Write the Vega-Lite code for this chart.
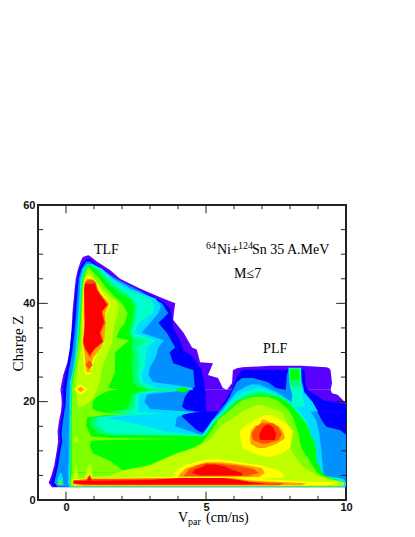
{"$schema":"https://vega.github.io/schema/vega-lite/v6.json","width":308,"height":295,"autosize":{"type":"none"},"padding":{"left":38,"top":205,"right":69,"bottom":37},"background":"white","view":{"stroke":"#222","strokeWidth":2},"config":{"axis":{"grid":false}},
"layer":[
{"data":{"values":[
{"lv":1,"pt":"a","z":2.6,"x0":-0.5,"x1":10},{"lv":1,"pt":"a","z":3.5,"x0":-0.62,"x1":10},{"lv":1,"pt":"a","z":5,"x0":-0.52,"x1":10},{"lv":1,"pt":"a","z":7,"x0":-0.42,"x1":10},{"lv":1,"pt":"a","z":10,"x0":-0.33,"x1":10},{"lv":1,"pt":"a","z":12,"x0":-0.28,"x1":10},{"lv":1,"pt":"a","z":14,"x0":-0.3,"x1":10},{"lv":1,"pt":"a","z":16,"x0":-0.25,"x1":10},{"lv":1,"pt":"a","z":18,"x0":-0.18,"x1":10},{"lv":1,"pt":"a","z":19.7,"x0":-0.15,"x1":10},{"lv":1,"pt":"a","z":21.4,"x0":-0.17,"x1":9.7},{"lv":1,"pt":"a","z":21.7,"x0":-0.18,"x1":9.5},{"lv":1,"pt":"a","z":22.4,"x0":-0.2,"x1":9.45},
{"lv":1,"pt":"b","z":22.4,"x0":-0.2,"x1":5.75},{"lv":1,"pt":"b","z":22.8,"x0":-0.19,"x1":5.6},{"lv":1,"pt":"b","z":24.8,"x0":-0.12,"x1":5.43},{"lv":1,"pt":"b","z":25.4,"x0":-0.1,"x1":5.07},{"lv":1,"pt":"b","z":27.8,"x0":0.04,"x1":5.25},{"lv":1,"pt":"b","z":28,"x0":0.05,"x1":4.79},{"lv":1,"pt":"b","z":30.6,"x0":0.13,"x1":4.67},{"lv":1,"pt":"b","z":31,"x0":0.14,"x1":4.5},{"lv":1,"pt":"b","z":34,"x0":0.19,"x1":4.2},{"lv":1,"pt":"b","z":36.6,"x0":0.22,"x1":3.83},{"lv":1,"pt":"b","z":38,"x0":0.23,"x1":3.85},{"lv":1,"pt":"b","z":40,"x0":0.26,"x1":3.9},{"lv":1,"pt":"b","z":41,"x0":0.28,"x1":3.47},{"lv":1,"pt":"b","z":43,"x0":0.31,"x1":2.64},{"lv":1,"pt":"b","z":45,"x0":0.35,"x1":1.93},{"lv":1,"pt":"b","z":46.8,"x0":0.42,"x1":1.57},{"lv":1,"pt":"b","z":48.5,"x0":0.52,"x1":1.1},{"lv":1,"pt":"b","z":49.4,"x0":0.6,"x1":0.9},{"lv":1,"pt":"b","z":49.8,"x0":0.79,"x1":0.81},
{"lv":1,"pt":"c","z":22.4,"x0":5.75,"x1":9.45},{"lv":1,"pt":"c","z":23.8,"x0":5.93,"x1":9.5},{"lv":1,"pt":"c","z":26.4,"x0":5.96,"x1":9.45},{"lv":1,"pt":"c","z":26.8,"x0":6.1,"x1":9.4},{"lv":1,"pt":"c","z":27,"x0":6.3,"x1":9.3},{"lv":1,"pt":"c","z":27.3,"x0":7.3,"x1":8.4},
{"lv":2,"pt":"a","z":2.75,"x0":-0.43,"x1":10},{"lv":2,"pt":"a","z":3.5,"x0":-0.55,"x1":10},{"lv":2,"pt":"a","z":5,"x0":-0.45,"x1":10},{"lv":2,"pt":"a","z":7,"x0":-0.36,"x1":10},{"lv":2,"pt":"a","z":10,"x0":-0.27,"x1":10},{"lv":2,"pt":"a","z":12,"x0":-0.2,"x1":10},{"lv":2,"pt":"a","z":14,"x0":-0.22,"x1":10},{"lv":2,"pt":"a","z":16,"x0":-0.18,"x1":10},{"lv":2,"pt":"a","z":18,"x0":-0.12,"x1":10},
{"lv":2,"pt":"b","z":18,"x0":-0.12,"x1":5},{"lv":2,"pt":"b","z":19,"x0":-0.08,"x1":5},{"lv":2,"pt":"b","z":22,"x0":-0.12,"x1":4.98},{"lv":2,"pt":"b","z":23,"x0":-0.1,"x1":4.96},{"lv":2,"pt":"b","z":24.8,"x0":-0.05,"x1":4.9},{"lv":2,"pt":"b","z":26.4,"x0":0.02,"x1":4.85},{"lv":2,"pt":"b","z":29,"x0":0.1,"x1":4.55},{"lv":2,"pt":"b","z":30.5,"x0":0.14,"x1":4.2},{"lv":2,"pt":"b","z":32.5,"x0":0.17,"x1":4.07},{"lv":2,"pt":"b","z":35,"x0":0.22,"x1":3.83},{"lv":2,"pt":"b","z":37.6,"x0":0.26,"x1":3.78},{"lv":2,"pt":"b","z":39,"x0":0.3,"x1":3.71},{"lv":2,"pt":"b","z":40.3,"x0":0.31,"x1":3.47},{"lv":2,"pt":"b","z":41.7,"x0":0.33,"x1":3},{"lv":2,"pt":"b","z":42.7,"x0":0.35,"x1":2.29},{"lv":2,"pt":"b","z":45.5,"x0":0.42,"x1":1.6},{"lv":2,"pt":"b","z":47.5,"x0":0.52,"x1":1.15},{"lv":2,"pt":"b","z":49,"x0":0.72,"x1":0.86},
{"lv":2,"pt":"c","z":18,"x0":5.45,"x1":10},{"lv":2,"pt":"c","z":19.5,"x0":5.6,"x1":10},{"lv":2,"pt":"c","z":20.3,"x0":5.7,"x1":9.2},{"lv":2,"pt":"c","z":22.4,"x0":5.93,"x1":8.64},{"lv":2,"pt":"c","z":23.8,"x0":6.02,"x1":8.54},{"lv":2,"pt":"c","z":25.5,"x0":6.15,"x1":8.55},{"lv":2,"pt":"c","z":26.5,"x0":6.3,"x1":8.5},
{"lv":3,"pt":"a","z":2.7,"x0":-0.3,"x1":10},{"lv":3,"pt":"a","z":3.5,"x0":-0.42,"x1":10},{"lv":3,"pt":"a","z":5,"x0":-0.36,"x1":10},{"lv":3,"pt":"a","z":7,"x0":-0.28,"x1":10},{"lv":3,"pt":"a","z":10,"x0":-0.2,"x1":10},{"lv":3,"pt":"a","z":12,"x0":-0.13,"x1":10},{"lv":3,"pt":"a","z":13.2,"x0":-0.16,"x1":10},
{"lv":3,"pt":"b","z":13.2,"x0":-0.16,"x1":5.05},{"lv":3,"pt":"b","z":14.2,"x0":-0.15,"x1":4.68},{"lv":3,"pt":"b","z":15.6,"x0":-0.12,"x1":4.4},{"lv":3,"pt":"b","z":17,"x0":-0.08,"x1":4.14},{"lv":3,"pt":"b","z":17.6,"x0":-0.07,"x1":4.2},{"lv":3,"pt":"b","z":17.9,"x0":-0.06,"x1":4.8},{"lv":3,"pt":"b","z":18.3,"x0":-0.05,"x1":4.3},{"lv":3,"pt":"b","z":19,"x0":-0.02,"x1":4.14},{"lv":3,"pt":"b","z":21,"x0":0,"x1":4.25},{"lv":3,"pt":"b","z":22.4,"x0":0.01,"x1":4.43},{"lv":3,"pt":"b","z":23,"x0":0.02,"x1":4.6},{"lv":3,"pt":"b","z":26.4,"x0":0.1,"x1":4.55},{"lv":3,"pt":"b","z":27.8,"x0":0.15,"x1":3.83},{"lv":3,"pt":"b","z":30,"x0":0.22,"x1":3.7},{"lv":3,"pt":"b","z":31,"x0":0.24,"x1":3.9},{"lv":3,"pt":"b","z":34,"x0":0.3,"x1":3.6},{"lv":3,"pt":"b","z":36,"x0":0.33,"x1":3.3},{"lv":3,"pt":"b","z":38,"x0":0.36,"x1":3.65},{"lv":3,"pt":"b","z":40,"x0":0.38,"x1":3.43},{"lv":3,"pt":"b","z":41.3,"x0":0.4,"x1":3},{"lv":3,"pt":"b","z":42.7,"x0":0.42,"x1":2.57},{"lv":3,"pt":"b","z":45,"x0":0.45,"x1":1.8},{"lv":3,"pt":"b","z":47,"x0":0.55,"x1":1.2},{"lv":3,"pt":"b","z":48.5,"x0":0.72,"x1":0.85},
{"lv":3,"pt":"c","z":13.2,"x0":5.05,"x1":10},{"lv":3,"pt":"c","z":14.2,"x0":5,"x1":9.8},{"lv":3,"pt":"c","z":14.9,"x0":5.1,"x1":9.3},{"lv":3,"pt":"c","z":16,"x0":5.2,"x1":9.15},{"lv":3,"pt":"c","z":18.3,"x0":5.5,"x1":8.95},{"lv":3,"pt":"c","z":19.7,"x0":5.7,"x1":8.8},{"lv":3,"pt":"c","z":21,"x0":5.85,"x1":8.55},{"lv":3,"pt":"c","z":21.7,"x0":5.9,"x1":8.5},{"lv":3,"pt":"c","z":22.8,"x0":6,"x1":7.5},{"lv":3,"pt":"c","z":24,"x0":6.1,"x1":7.2},{"lv":3,"pt":"c","z":24.8,"x0":6.3,"x1":6.7},
{"lv":3,"pt":"d","z":21.7,"x0":7.8,"x1":8.5},{"lv":3,"pt":"d","z":22.4,"x0":7.85,"x1":8.5},{"lv":3,"pt":"d","z":25,"x0":7.88,"x1":8.4},{"lv":3,"pt":"d","z":26.8,"x0":7.95,"x1":8.3},
{"lv":4,"pt":"t","z":3,"x0":-0.3,"x1":-0.08},{"lv":4,"pt":"t","z":4,"x0":-0.32,"x1":-0.1},{"lv":4,"pt":"t","z":5.5,"x0":-0.22,"x1":-0.15},
{"lv":4,"pt":"a","z":2.7,"x0":0.12,"x1":10},{"lv":4,"pt":"a","z":3.6,"x0":0.06,"x1":10},{"lv":4,"pt":"a","z":4.3,"x0":0.08,"x1":9.9},{"lv":4,"pt":"a","z":5,"x0":0.08,"x1":9.2},{"lv":4,"pt":"a","z":8,"x0":0.09,"x1":9.15},{"lv":4,"pt":"a","z":11,"x0":0.1,"x1":9.1},{"lv":4,"pt":"a","z":13.2,"x0":0.1,"x1":9.05},
{"lv":4,"pt":"b","z":13.2,"x0":0.1,"x1":4.85},{"lv":4,"pt":"b","z":15,"x0":0.11,"x1":3.9},{"lv":4,"pt":"b","z":16.8,"x0":0.115,"x1":3.95},{"lv":4,"pt":"b","z":17.4,"x0":0.12,"x1":4.2},{"lv":4,"pt":"b","z":17.9,"x0":0.12,"x1":4.6},{"lv":4,"pt":"b","z":18.5,"x0":0.12,"x1":3},{"lv":4,"pt":"b","z":20,"x0":0.12,"x1":2.8},{"lv":4,"pt":"b","z":21.5,"x0":0.13,"x1":2.9},{"lv":4,"pt":"b","z":22.4,"x0":0.13,"x1":4.55},{"lv":4,"pt":"b","z":22.9,"x0":0.13,"x1":4.5},{"lv":4,"pt":"b","z":24,"x0":0.14,"x1":3.1},{"lv":4,"pt":"b","z":25.5,"x0":0.2,"x1":2.95},{"lv":4,"pt":"b","z":27,"x0":0.25,"x1":3},{"lv":4,"pt":"b","z":29,"x0":0.3,"x1":3.2},{"lv":4,"pt":"b","z":31,"x0":0.34,"x1":3.3},{"lv":4,"pt":"b","z":32.5,"x0":0.36,"x1":3.5},{"lv":4,"pt":"b","z":34,"x0":0.38,"x1":2.7},{"lv":4,"pt":"b","z":36,"x0":0.41,"x1":3},{"lv":4,"pt":"b","z":38,"x0":0.44,"x1":3.3},{"lv":4,"pt":"b","z":39.5,"x0":0.45,"x1":3.4},{"lv":4,"pt":"b","z":41,"x0":0.47,"x1":3.2},{"lv":4,"pt":"b","z":43,"x0":0.49,"x1":2.3},{"lv":4,"pt":"b","z":45,"x0":0.51,"x1":1.7},{"lv":4,"pt":"b","z":47,"x0":0.6,"x1":1.3},{"lv":4,"pt":"b","z":48,"x0":0.75,"x1":0.95},
{"lv":4,"pt":"c","z":13.2,"x0":4.85,"x1":9.05},{"lv":4,"pt":"c","z":16,"x0":5.2,"x1":8.95},{"lv":4,"pt":"c","z":18.3,"x0":5.6,"x1":8.7},{"lv":4,"pt":"c","z":20,"x0":5.8,"x1":8.05},{"lv":4,"pt":"c","z":22,"x0":6.1,"x1":7.5},{"lv":4,"pt":"c","z":23,"x0":6.4,"x1":7.1},{"lv":4,"pt":"c","z":23.5,"x0":6.6,"x1":6.9},
{"lv":4,"pt":"d","z":18,"x0":7.9,"x1":9},{"lv":4,"pt":"d","z":20,"x0":8.05,"x1":8.8},{"lv":4,"pt":"d","z":22,"x0":8.1,"x1":8.5},{"lv":4,"pt":"d","z":24,"x0":8,"x1":8.4},{"lv":4,"pt":"d","z":26,"x0":7.95,"x1":8.4},{"lv":4,"pt":"d","z":26.8,"x0":8.02,"x1":8.33},
{"lv":5,"pt":"a","z":2.7,"x0":0.14,"x1":9.9},{"lv":5,"pt":"a","z":3.4,"x0":0.1,"x1":9.95},{"lv":5,"pt":"a","z":4.3,"x0":0.12,"x1":9.8},{"lv":5,"pt":"a","z":5,"x0":0.12,"x1":9.1},{"lv":5,"pt":"a","z":8,"x0":0.13,"x1":8.85},{"lv":5,"pt":"a","z":11,"x0":0.14,"x1":8.85},{"lv":5,"pt":"a","z":13.2,"x0":0.14,"x1":8.75},
{"lv":5,"pt":"b","z":13.2,"x0":0.14,"x1":4.9},{"lv":5,"pt":"b","z":13.5,"x0":0.14,"x1":4.3},{"lv":5,"pt":"b","z":14,"x0":0.14,"x1":3.5},{"lv":5,"pt":"b","z":15,"x0":0.15,"x1":2.9},{"lv":5,"pt":"b","z":16.8,"x0":0.15,"x1":1.4},{"lv":5,"pt":"b","z":17.3,"x0":0.16,"x1":2.5},{"lv":5,"pt":"b","z":17.6,"x0":0.16,"x1":3.5},{"lv":5,"pt":"b","z":17.9,"x0":0.16,"x1":2.5},{"lv":5,"pt":"b","z":18.5,"x0":0.16,"x1":2.6},{"lv":5,"pt":"b","z":20,"x0":0.16,"x1":2.6},{"lv":5,"pt":"b","z":21.5,"x0":0.17,"x1":2.6},{"lv":5,"pt":"b","z":22.1,"x0":0.17,"x1":3.3},{"lv":5,"pt":"b","z":22.4,"x0":0.17,"x1":4.4},{"lv":5,"pt":"b","z":22.8,"x0":0.17,"x1":3.2},{"lv":5,"pt":"b","z":24,"x0":0.18,"x1":2.75},{"lv":5,"pt":"b","z":25.5,"x0":0.23,"x1":2.7},{"lv":5,"pt":"b","z":27,"x0":0.28,"x1":2.8},{"lv":5,"pt":"b","z":29,"x0":0.33,"x1":2.85},{"lv":5,"pt":"b","z":31,"x0":0.37,"x1":2.9},{"lv":5,"pt":"b","z":32.5,"x0":0.39,"x1":3.2},{"lv":5,"pt":"b","z":34,"x0":0.42,"x1":2.45},{"lv":5,"pt":"b","z":36,"x0":0.44,"x1":2.6},{"lv":5,"pt":"b","z":38,"x0":0.47,"x1":3.1},{"lv":5,"pt":"b","z":39.5,"x0":0.48,"x1":3.15},{"lv":5,"pt":"b","z":41,"x0":0.5,"x1":3},{"lv":5,"pt":"b","z":43,"x0":0.52,"x1":2.1},{"lv":5,"pt":"b","z":45,"x0":0.55,"x1":1.6},{"lv":5,"pt":"b","z":47,"x0":0.65,"x1":1.25},{"lv":5,"pt":"b","z":47.7,"x0":0.78,"x1":1},
{"lv":5,"pt":"c","z":13.2,"x0":4.9,"x1":8.75},{"lv":5,"pt":"c","z":16,"x0":5.25,"x1":8.6},{"lv":5,"pt":"c","z":18.3,"x0":5.65,"x1":8.3},{"lv":5,"pt":"c","z":20,"x0":5.9,"x1":7.95},{"lv":5,"pt":"c","z":21,"x0":6.1,"x1":7.7},{"lv":5,"pt":"c","z":22,"x0":6.4,"x1":7.3},{"lv":5,"pt":"c","z":22.7,"x0":6.8,"x1":7},
{"lv":5,"pt":"d","z":19,"x0":8.05,"x1":8.55},{"lv":5,"pt":"d","z":21,"x0":8.1,"x1":8.45},{"lv":5,"pt":"d","z":23,"x0":8,"x1":8.4},{"lv":5,"pt":"d","z":26.9,"x0":7.95,"x1":8.4},
{"lv":6,"pt":"t","z":3.1,"x0":-0.3,"x1":-0.12},{"lv":6,"pt":"t","z":4,"x0":-0.28,"x1":-0.14},
{"lv":6,"pt":"a","z":2.72,"x0":0.16,"x1":9.85},{"lv":6,"pt":"a","z":3.4,"x0":0.12,"x1":9.9},{"lv":6,"pt":"a","z":4.3,"x0":0.14,"x1":9.7},{"lv":6,"pt":"a","z":5,"x0":0.14,"x1":9},{"lv":6,"pt":"a","z":8,"x0":0.15,"x1":8.75},{"lv":6,"pt":"a","z":11,"x0":0.16,"x1":8.75},{"lv":6,"pt":"a","z":13,"x0":0.16,"x1":8.7},
{"lv":6,"pt":"b","z":13,"x0":0.16,"x1":5},{"lv":6,"pt":"b","z":13.3,"x0":0.16,"x1":1.6},{"lv":6,"pt":"b","z":15,"x0":0.17,"x1":1.1},{"lv":6,"pt":"b","z":16.8,"x0":0.17,"x1":1.1},{"lv":6,"pt":"b","z":17.3,"x0":0.18,"x1":1.9},{"lv":6,"pt":"b","z":17.6,"x0":0.18,"x1":2.5},{"lv":6,"pt":"b","z":17.9,"x0":0.18,"x1":1.9},{"lv":6,"pt":"b","z":18.5,"x0":0.18,"x1":2.45},{"lv":6,"pt":"b","z":20,"x0":0.18,"x1":2.45},{"lv":6,"pt":"b","z":21.5,"x0":0.19,"x1":2.5},{"lv":6,"pt":"b","z":22.1,"x0":0.19,"x1":2.9},{"lv":6,"pt":"b","z":22.4,"x0":0.19,"x1":4.3},{"lv":6,"pt":"b","z":22.8,"x0":0.19,"x1":2.9},{"lv":6,"pt":"b","z":24,"x0":0.2,"x1":2.6},{"lv":6,"pt":"b","z":25.5,"x0":0.25,"x1":2.55},{"lv":6,"pt":"b","z":27,"x0":0.3,"x1":2.6},{"lv":6,"pt":"b","z":29,"x0":0.36,"x1":2.6},{"lv":6,"pt":"b","z":31,"x0":0.4,"x1":2.5},{"lv":6,"pt":"b","z":32.5,"x0":0.42,"x1":2.9},{"lv":6,"pt":"b","z":33,"x0":0.42,"x1":2.4},{"lv":6,"pt":"b","z":34,"x0":0.45,"x1":2.35},{"lv":6,"pt":"b","z":36,"x0":0.47,"x1":2.45},{"lv":6,"pt":"b","z":38,"x0":0.5,"x1":2.5},{"lv":6,"pt":"b","z":39.5,"x0":0.51,"x1":2.5},{"lv":6,"pt":"b","z":41,"x0":0.53,"x1":2.4},{"lv":6,"pt":"b","z":43,"x0":0.55,"x1":1.9},{"lv":6,"pt":"b","z":45,"x0":0.58,"x1":1.5},{"lv":6,"pt":"b","z":47,"x0":0.68,"x1":1.15},{"lv":6,"pt":"b","z":47.5,"x0":0.78,"x1":0.95},
{"lv":6,"pt":"c","z":13,"x0":5,"x1":8.7},{"lv":6,"pt":"c","z":16,"x0":5.3,"x1":8.5},{"lv":6,"pt":"c","z":18.3,"x0":5.72,"x1":8.2},{"lv":6,"pt":"c","z":20,"x0":6,"x1":7.95},{"lv":6,"pt":"c","z":21,"x0":6.3,"x1":7.7},{"lv":6,"pt":"c","z":22,"x0":6.8,"x1":7.1},
{"lv":6,"pt":"d","z":23,"x0":8.05,"x1":8.37},{"lv":6,"pt":"d","z":24,"x0":7.98,"x1":8.38},{"lv":6,"pt":"d","z":26.8,"x0":7.98,"x1":8.36},
{"lv":7,"pt":"a","z":2.75,"x0":0.17,"x1":9.8},{"lv":7,"pt":"a","z":3.4,"x0":0.14,"x1":9.85},{"lv":7,"pt":"a","z":4.3,"x0":0.15,"x1":9.5},{"lv":7,"pt":"a","z":5.3,"x0":0.16,"x1":9.18},{"lv":7,"pt":"a","z":8,"x0":0.17,"x1":8.95},{"lv":7,"pt":"a","z":11.6,"x0":0.17,"x1":8.9},{"lv":7,"pt":"a","z":13,"x0":0.18,"x1":8.75},
{"lv":7,"pt":"b","z":13,"x0":0.18,"x1":4.95},{"lv":7,"pt":"b","z":13.2,"x0":0.18,"x1":1.8},{"lv":7,"pt":"b","z":13.5,"x0":0.18,"x1":1.2},{"lv":7,"pt":"b","z":15,"x0":0.19,"x1":0.9},{"lv":7,"pt":"b","z":16.8,"x0":0.19,"x1":0.9},{"lv":7,"pt":"b","z":17.3,"x0":0.2,"x1":1.6},{"lv":7,"pt":"b","z":17.6,"x0":0.2,"x1":1.95},{"lv":7,"pt":"b","z":17.9,"x0":0.2,"x1":1.5},{"lv":7,"pt":"b","z":18.5,"x0":0.2,"x1":2.2},{"lv":7,"pt":"b","z":20,"x0":0.2,"x1":2.3},{"lv":7,"pt":"b","z":21.5,"x0":0.21,"x1":2.35},{"lv":7,"pt":"b","z":22.1,"x0":0.21,"x1":2.7},{"lv":7,"pt":"b","z":22.4,"x0":0.21,"x1":3},{"lv":7,"pt":"b","z":22.8,"x0":0.21,"x1":2.6},{"lv":7,"pt":"b","z":24,"x0":0.22,"x1":2.4},{"lv":7,"pt":"b","z":25.5,"x0":0.26,"x1":2.4},{"lv":7,"pt":"b","z":27,"x0":0.32,"x1":2.35},{"lv":7,"pt":"b","z":29,"x0":0.37,"x1":2.4},{"lv":7,"pt":"b","z":31,"x0":0.42,"x1":2.35},{"lv":7,"pt":"b","z":32.5,"x0":0.44,"x1":2.4},{"lv":7,"pt":"b","z":34,"x0":0.47,"x1":2.25},{"lv":7,"pt":"b","z":36,"x0":0.5,"x1":2.35},{"lv":7,"pt":"b","z":38,"x0":0.52,"x1":2.4},{"lv":7,"pt":"b","z":39.5,"x0":0.53,"x1":2.45},{"lv":7,"pt":"b","z":41,"x0":0.55,"x1":2.25},{"lv":7,"pt":"b","z":43,"x0":0.57,"x1":1.7},{"lv":7,"pt":"b","z":45,"x0":0.6,"x1":1.35},{"lv":7,"pt":"b","z":47,"x0":0.7,"x1":1.05},{"lv":7,"pt":"b","z":47.7,"x0":0.79,"x1":0.85},
{"lv":7,"pt":"c","z":13,"x0":4.95,"x1":8.75},{"lv":7,"pt":"c","z":15,"x0":5.2,"x1":8.64},{"lv":7,"pt":"c","z":16,"x0":5.35,"x1":8.5},{"lv":7,"pt":"c","z":18.3,"x0":5.78,"x1":8.2},{"lv":7,"pt":"c","z":20,"x0":6.1,"x1":7.9},{"lv":7,"pt":"c","z":21,"x0":6.55,"x1":7.5},{"lv":7,"pt":"c","z":21.3,"x0":6.8,"x1":7.2},
{"lv":7,"pt":"d","z":24.4,"x0":8.04,"x1":8.34},{"lv":7,"pt":"d","z":25,"x0":8.02,"x1":8.34},{"lv":7,"pt":"d","z":26.5,"x0":8.03,"x1":8.32},
{"lv":7,"pt":"e","z":21.9,"x0":4.1,"x1":4.25},{"lv":7,"pt":"e","z":22.4,"x0":3.9,"x1":4.4},{"lv":7,"pt":"e","z":22.9,"x0":4.1,"x1":4.25},
{"lv":8,"pt":"t","z":3.2,"x0":-0.26,"x1":-0.16},{"lv":8,"pt":"t","z":4,"x0":-0.22,"x1":-0.18},
{"lv":8,"pt":"a","z":5.6,"x0":0.2,"x1":2.75},{"lv":8,"pt":"a","z":6,"x0":0.2,"x1":2.04},{"lv":8,"pt":"a","z":8,"x0":0.2,"x1":1.57},{"lv":8,"pt":"a","z":9.5,"x0":0.2,"x1":0.96},{"lv":8,"pt":"a","z":11,"x0":0.2,"x1":0.85},{"lv":8,"pt":"a","z":12,"x0":0.2,"x1":0.9},{"lv":8,"pt":"a","z":12.2,"x0":0.2,"x1":1.6},{"lv":8,"pt":"a","z":12.4,"x0":0.2,"x1":4.2},{"lv":8,"pt":"a","z":12.6,"x0":0.2,"x1":1.6},{"lv":8,"pt":"a","z":12.9,"x0":0.2,"x1":0.9},{"lv":8,"pt":"a","z":15,"x0":0.2,"x1":0.72},{"lv":8,"pt":"a","z":16.8,"x0":0.2,"x1":0.75},{"lv":8,"pt":"a","z":17.3,"x0":0.21,"x1":1.4},{"lv":8,"pt":"a","z":17.5,"x0":0.21,"x1":2.3},{"lv":8,"pt":"a","z":17.8,"x0":0.21,"x1":1.3},{"lv":8,"pt":"a","z":18.5,"x0":0.21,"x1":0.95},{"lv":8,"pt":"a","z":20,"x0":0.21,"x1":0.95},{"lv":8,"pt":"a","z":21,"x0":0.22,"x1":1.1},{"lv":8,"pt":"a","z":22.2,"x0":0.22,"x1":1.5},{"lv":8,"pt":"a","z":22.5,"x0":0.22,"x1":1.9},{"lv":8,"pt":"a","z":22.8,"x0":0.22,"x1":1.5},{"lv":8,"pt":"a","z":24,"x0":0.24,"x1":1.6},{"lv":8,"pt":"a","z":26,"x0":0.3,"x1":1.75},{"lv":8,"pt":"a","z":28,"x0":0.36,"x1":1.75},{"lv":8,"pt":"a","z":30,"x0":0.4,"x1":1.75},{"lv":8,"pt":"a","z":32.5,"x0":0.46,"x1":2.25},{"lv":8,"pt":"a","z":33,"x0":0.47,"x1":1.8},{"lv":8,"pt":"a","z":34.5,"x0":0.5,"x1":1.9},{"lv":8,"pt":"a","z":36,"x0":0.52,"x1":2.1},{"lv":8,"pt":"a","z":38,"x0":0.54,"x1":2.2},{"lv":8,"pt":"a","z":40,"x0":0.56,"x1":2},{"lv":8,"pt":"a","z":41,"x0":0.57,"x1":1.8},{"lv":8,"pt":"a","z":43,"x0":0.59,"x1":1.45},{"lv":8,"pt":"a","z":45,"x0":0.62,"x1":1.2},{"lv":8,"pt":"a","z":46.5,"x0":0.71,"x1":0.95},{"lv":8,"pt":"a","z":47.4,"x0":0.79,"x1":0.82},
{"lv":8,"pt":"b","z":2.8,"x0":0.18,"x1":9.7},{"lv":8,"pt":"b","z":3.6,"x0":0.16,"x1":9.75},{"lv":8,"pt":"b","z":4.5,"x0":0.18,"x1":9.3},{"lv":8,"pt":"b","z":5.5,"x0":0.2,"x1":8.96},{"lv":8,"pt":"b","z":5.7,"x0":2.75,"x1":8.95},{"lv":8,"pt":"b","z":8,"x0":3.36,"x1":8.7},{"lv":8,"pt":"b","z":10,"x0":4.32,"x1":8.45},{"lv":8,"pt":"b","z":11.6,"x0":4.86,"x1":8.36},{"lv":8,"pt":"b","z":13.2,"x0":5.07,"x1":8.32},{"lv":8,"pt":"b","z":15.6,"x0":5.38,"x1":8.18},{"lv":8,"pt":"b","z":16.3,"x0":5.43,"x1":8.15},{"lv":8,"pt":"b","z":18.3,"x0":5.86,"x1":7.95},{"lv":8,"pt":"b","z":19.3,"x0":6.05,"x1":7.75},{"lv":8,"pt":"b","z":20.3,"x0":6.3,"x1":7.55},{"lv":8,"pt":"b","z":21,"x0":6.68,"x1":7.2},
{"lv":9,"pt":"a","z":2.9,"x0":0.3,"x1":9.9},{"lv":9,"pt":"a","z":3.5,"x0":0.2,"x1":9.95},{"lv":9,"pt":"a","z":4.3,"x0":0.2,"x1":9.4},{"lv":9,"pt":"a","z":5,"x0":1.6,"x1":9.07},{"lv":9,"pt":"a","z":6.1,"x0":2.1,"x1":8.6},{"lv":9,"pt":"a","z":7.1,"x0":3,"x1":8.4},{"lv":9,"pt":"a","z":9.5,"x0":3.96,"x1":8.1},{"lv":9,"pt":"a","z":10.8,"x0":4.68,"x1":8},{"lv":9,"pt":"a","z":12.2,"x0":5.14,"x1":7.95},{"lv":9,"pt":"a","z":14.9,"x0":5.5,"x1":7.95},{"lv":9,"pt":"a","z":15,"x0":5.52,"x1":7.93},{"lv":9,"pt":"a","z":17.6,"x0":6.2,"x1":7.75},{"lv":9,"pt":"a","z":18.3,"x0":6.4,"x1":7.53},{"lv":9,"pt":"a","z":19.3,"x0":6.8,"x1":7},
{"lv":9,"pt":"b","z":19,"x0":0.45,"x1":0.6},{"lv":9,"pt":"b","z":20,"x0":0.4,"x1":0.85},{"lv":9,"pt":"b","z":21,"x0":0.38,"x1":1},{"lv":9,"pt":"b","z":24,"x0":0.36,"x1":1.2},{"lv":9,"pt":"b","z":27,"x0":0.42,"x1":1.3},{"lv":9,"pt":"b","z":30,"x0":0.5,"x1":1.5},{"lv":9,"pt":"b","z":32,"x0":0.55,"x1":1.65},{"lv":9,"pt":"b","z":35,"x0":0.56,"x1":1.7},{"lv":9,"pt":"b","z":38,"x0":0.57,"x1":1.85},{"lv":9,"pt":"b","z":40,"x0":0.58,"x1":1.9},{"lv":9,"pt":"b","z":42,"x0":0.6,"x1":1.45},{"lv":9,"pt":"b","z":44,"x0":0.65,"x1":1.15},{"lv":9,"pt":"b","z":45.5,"x0":0.7,"x1":0.95},{"lv":9,"pt":"b","z":46.4,"x0":0.79,"x1":0.83},
{"lv":9,"pt":"c","z":4.4,"x0":0.65,"x1":1},{"lv":9,"pt":"c","z":7.5,"x0":0.83,"x1":0.85},
{"lv":9,"pt":"d","z":4.4,"x0":0.25,"x1":0.45},{"lv":9,"pt":"d","z":6.8,"x0":0.33,"x1":0.37},
{"lv":9,"pt":"e","z":11.8,"x0":0.3,"x1":0.42},{"lv":9,"pt":"e","z":12.4,"x0":0.3,"x1":0.42},{"lv":9,"pt":"e","z":13,"x0":0.36,"x1":0.37},
{"lv":10,"pt":"t","z":3.3,"x0":-0.24,"x1":-0.18},{"lv":10,"pt":"t","z":3.8,"x0":-0.22,"x1":-0.2},
{"lv":10,"pt":"a","z":25.5,"x0":0.7,"x1":0.85},{"lv":10,"pt":"a","z":27,"x0":0.66,"x1":0.92},{"lv":10,"pt":"a","z":29,"x0":0.62,"x1":1.05},{"lv":10,"pt":"a","z":31,"x0":0.6,"x1":1.2},{"lv":10,"pt":"a","z":33,"x0":0.6,"x1":1.35},{"lv":10,"pt":"a","z":36,"x0":0.6,"x1":1.4},{"lv":10,"pt":"a","z":38,"x0":0.58,"x1":1.45},{"lv":10,"pt":"a","z":40,"x0":0.6,"x1":1.6},{"lv":10,"pt":"a","z":42,"x0":0.62,"x1":1.3},{"lv":10,"pt":"a","z":44,"x0":0.63,"x1":1.1},{"lv":10,"pt":"a","z":45,"x0":0.7,"x1":0.9},{"lv":10,"pt":"a","z":45.6,"x0":0.78,"x1":0.82},
{"lv":10,"pt":"b","z":21.5,"x0":0.45,"x1":0.55},{"lv":10,"pt":"b","z":22.5,"x0":0.3,"x1":0.78},{"lv":10,"pt":"b","z":23.5,"x0":0.45,"x1":0.55},
{"lv":10,"pt":"c","z":2.95,"x0":0.3,"x1":9.3},{"lv":10,"pt":"c","z":3.5,"x0":0.22,"x1":9.7},{"lv":10,"pt":"c","z":4.2,"x0":0.24,"x1":7},{"lv":10,"pt":"c","z":4.7,"x0":3.3,"x1":7.6},
{"lv":10,"pt":"d","z":4.2,"x0":0.7,"x1":0.95},{"lv":10,"pt":"d","z":5.5,"x0":0.83,"x1":0.85},
{"lv":10,"pt":"e","z":4.5,"x0":3.6,"x1":7.8},{"lv":10,"pt":"e","z":5,"x0":3.9,"x1":7.8},{"lv":10,"pt":"e","z":6,"x0":3.9,"x1":7.6},{"lv":10,"pt":"e","z":7,"x0":4.2,"x1":7},{"lv":10,"pt":"e","z":8,"x0":4.8,"x1":5.9},{"lv":10,"pt":"e","z":8.3,"x0":5.2,"x1":5.4},
{"lv":10,"pt":"f","z":8.8,"x0":7.1,"x1":7.3},{"lv":10,"pt":"f","z":9.5,"x0":6.7,"x1":7.7},{"lv":10,"pt":"f","z":10.6,"x0":6.3,"x1":8},{"lv":10,"pt":"f","z":12,"x0":6.25,"x1":8.05},{"lv":10,"pt":"f","z":14,"x0":6.2,"x1":8.1},{"lv":10,"pt":"f","z":15.5,"x0":6.5,"x1":7.9},{"lv":10,"pt":"f","z":16.3,"x0":6.75,"x1":7.65},{"lv":10,"pt":"f","z":17.3,"x0":7.1,"x1":7.3},
{"lv":11,"pt":"a","z":26,"x0":0.75,"x1":0.85},{"lv":11,"pt":"a","z":27,"x0":0.7,"x1":0.88},{"lv":11,"pt":"a","z":29,"x0":0.68,"x1":0.98},{"lv":11,"pt":"a","z":31,"x0":0.63,"x1":1.25},{"lv":11,"pt":"a","z":33,"x0":0.62,"x1":1.38},{"lv":11,"pt":"a","z":36,"x0":0.64,"x1":1.42},{"lv":11,"pt":"a","z":38,"x0":0.62,"x1":1.4},{"lv":11,"pt":"a","z":40,"x0":0.63,"x1":1.55},{"lv":11,"pt":"a","z":42,"x0":0.64,"x1":1.2},{"lv":11,"pt":"a","z":44,"x0":0.65,"x1":1.07},{"lv":11,"pt":"a","z":45,"x0":0.74,"x1":0.88},
{"lv":11,"pt":"b","z":22,"x0":0.5,"x1":0.55},{"lv":11,"pt":"b","z":22.5,"x0":0.4,"x1":0.65},{"lv":11,"pt":"b","z":23,"x0":0.5,"x1":0.55},
{"lv":11,"pt":"c","z":3,"x0":0.4,"x1":8.4},{"lv":11,"pt":"c","z":3.4,"x0":0.24,"x1":8.6},{"lv":11,"pt":"c","z":4,"x0":0.25,"x1":6.5},{"lv":11,"pt":"c","z":4.5,"x0":3,"x1":6},
{"lv":11,"pt":"d","z":4.2,"x0":0.72,"x1":0.93},{"lv":11,"pt":"d","z":5.2,"x0":0.83,"x1":0.85},
{"lv":11,"pt":"e","z":4.7,"x0":4,"x1":6.9},{"lv":11,"pt":"e","z":5.5,"x0":4.1,"x1":7.1},{"lv":11,"pt":"e","z":6.5,"x0":4.3,"x1":7},{"lv":11,"pt":"e","z":7,"x0":4.6,"x1":6.5},{"lv":11,"pt":"e","z":7.7,"x0":5,"x1":5.6},
{"lv":11,"pt":"f","z":10.6,"x0":6.85,"x1":7.1},{"lv":11,"pt":"f","z":11.4,"x0":6.6,"x1":7.5},{"lv":11,"pt":"f","z":12.5,"x0":6.57,"x1":7.82},{"lv":11,"pt":"f","z":14,"x0":6.6,"x1":7.75},{"lv":11,"pt":"f","z":15,"x0":6.75,"x1":7.6},{"lv":11,"pt":"f","z":15.3,"x0":6.9,"x1":7.45},{"lv":11,"pt":"f","z":16.3,"x0":7,"x1":7.1},
{"lv":12,"pt":"t","z":3.4,"x0":-0.23,"x1":-0.19},{"lv":12,"pt":"t","z":3.7,"x0":-0.23,"x1":-0.19},
{"lv":12,"pt":"a","z":26.7,"x0":0.8,"x1":0.85},{"lv":12,"pt":"a","z":27.5,"x0":0.7,"x1":0.95},{"lv":12,"pt":"a","z":28.3,"x0":0.8,"x1":0.85},
{"lv":12,"pt":"b","z":29,"x0":0.84,"x1":0.88},{"lv":12,"pt":"b","z":30,"x0":0.74,"x1":0.9},{"lv":12,"pt":"b","z":31,"x0":0.64,"x1":1.1},{"lv":12,"pt":"b","z":32.2,"x0":0.6,"x1":1.34},{"lv":12,"pt":"b","z":34,"x0":0.64,"x1":1.24},{"lv":12,"pt":"b","z":36,"x0":0.66,"x1":1.4},{"lv":12,"pt":"b","z":38.3,"x0":0.65,"x1":1.3},{"lv":12,"pt":"b","z":39.7,"x0":0.65,"x1":1.5},{"lv":12,"pt":"b","z":42.7,"x0":0.64,"x1":1.14},{"lv":12,"pt":"b","z":44.3,"x0":0.68,"x1":1.06},{"lv":12,"pt":"b","z":44.8,"x0":0.8,"x1":0.95},
{"lv":12,"pt":"c","z":3,"x0":0.6,"x1":7.6},{"lv":12,"pt":"c","z":3.4,"x0":0.24,"x1":7.8},{"lv":12,"pt":"c","z":4,"x0":0.26,"x1":5.5},{"lv":12,"pt":"c","z":4.3,"x0":1,"x1":6},
{"lv":12,"pt":"d","z":4.2,"x0":0.75,"x1":0.92},{"lv":12,"pt":"d","z":5,"x0":0.83,"x1":0.85},
{"lv":12,"pt":"e","z":4.9,"x0":4.2,"x1":6.5},{"lv":12,"pt":"e","z":5.5,"x0":4.3,"x1":6.9},{"lv":12,"pt":"e","z":6.3,"x0":4.4,"x1":6.7},{"lv":12,"pt":"e","z":7,"x0":4.7,"x1":6.1},{"lv":12,"pt":"e","z":7.5,"x0":5,"x1":5.3},
{"lv":12,"pt":"f","z":11.5,"x0":7,"x1":7.2},{"lv":12,"pt":"f","z":12.2,"x0":6.68,"x1":7.6},{"lv":12,"pt":"f","z":13.5,"x0":6.62,"x1":7.72},{"lv":12,"pt":"f","z":15,"x0":6.8,"x1":7.55},{"lv":12,"pt":"f","z":15.6,"x0":7,"x1":7.4},
{"lv":13,"pt":"a","z":29.5,"x0":0.85,"x1":0.87},{"lv":13,"pt":"a","z":30.9,"x0":0.68,"x1":1.04},{"lv":13,"pt":"a","z":32.2,"x0":0.62,"x1":1.31},{"lv":13,"pt":"a","z":34,"x0":0.66,"x1":1.2},{"lv":13,"pt":"a","z":36.2,"x0":0.68,"x1":1.36},{"lv":13,"pt":"a","z":38.3,"x0":0.67,"x1":1.27},{"lv":13,"pt":"a","z":39.7,"x0":0.67,"x1":1.47},{"lv":13,"pt":"a","z":42.7,"x0":0.65,"x1":1.1},{"lv":13,"pt":"a","z":44,"x0":0.68,"x1":1.04},
{"lv":13,"pt":"b","z":3.15,"x0":1,"x1":6.5},{"lv":13,"pt":"b","z":3.35,"x0":0.27,"x1":7.2},{"lv":13,"pt":"b","z":3.6,"x0":0.27,"x1":6.6},{"lv":13,"pt":"b","z":3.85,"x0":0.3,"x1":6.4},{"lv":13,"pt":"b","z":4.05,"x0":3,"x1":6.2},{"lv":13,"pt":"b","z":4.5,"x0":4.1,"x1":5.6},
{"lv":13,"pt":"d","z":3.9,"x0":0.75,"x1":0.92},{"lv":13,"pt":"d","z":4.8,"x0":0.83,"x1":0.85},
{"lv":13,"pt":"e","z":5,"x0":4.8,"x1":6.3},{"lv":13,"pt":"e","z":5.5,"x0":4.5,"x1":6.3},{"lv":13,"pt":"e","z":6.2,"x0":4.6,"x1":5.9},{"lv":13,"pt":"e","z":6.8,"x0":4.9,"x1":5.7},{"lv":13,"pt":"e","z":7.2,"x0":5,"x1":5.3},
{"lv":13,"pt":"f","z":12.2,"x0":6.93,"x1":7.46},{"lv":13,"pt":"f","z":13.5,"x0":6.9,"x1":7.5},{"lv":13,"pt":"f","z":14.8,"x0":7.05,"x1":7.4},{"lv":13,"pt":"f","z":15.3,"x0":7.15,"x1":7.25}
]},
"mark":{"type":"area","orient":"horizontal","interpolate":"linear"},
"encoding":{
"y":{"field":"z","type":"quantitative","scale":{"domain":[0,60],"nice":false},"axis":{"values":[0,20,40,60],"ticks":false,"domain":false,"labelFont":"Liberation Sans","labelFontWeight":"bold","labelFontSize":11,"labelColor":"#111","labelPadding":3,"title":"Charge Z","titleFont":"Liberation Serif","titleFontWeight":"normal","titleFontSize":15,"titleColor":"#000","titleX":-13,"titleY":138}},
"x":{"field":"x0","type":"quantitative","stack":null,"scale":{"domain":[-1,10],"nice":false},"axis":{"values":[0,5,10],"ticks":false,"domain":false,"labelFont":"Liberation Sans","labelFontWeight":"bold","labelFontSize":11,"labelColor":"#111","labelPadding":1,"labelFlush":false,"title":null}},
"x2":{"field":"x1"},
"color":{"field":"lv","type":"ordinal","legend":null,"scale":{"domain":[1,2,3,4,5,6,7,8,9,10,11,12,13],"range":["#5a00ff","#0000ff","#0090ff","#00dcff","#00ffc8","#00ff70","#00ff00","#80ff00","#c0ff00","#ffff00","#ffa000","#ff5000","#ff0000"]}},
"detail":{"field":"pt"}
}},
{"data":{"values":[{"v":0,"s":0,"e":1.7},{"v":5,"s":0,"e":1.7},{"v":10,"s":0,"e":1.7},{"v":1,"s":0,"e":0.85},{"v":2,"s":0,"e":0.85},{"v":3,"s":0,"e":0.85},{"v":4,"s":0,"e":0.85},{"v":6,"s":0,"e":0.85},{"v":7,"s":0,"e":0.85},{"v":8,"s":0,"e":0.85},{"v":9,"s":0,"e":0.85},{"v":0,"s":60,"e":58.3},{"v":5,"s":60,"e":58.3},{"v":10,"s":60,"e":58.3},{"v":1,"s":60,"e":59.15},{"v":2,"s":60,"e":59.15},{"v":3,"s":60,"e":59.15},{"v":4,"s":60,"e":59.15},{"v":6,"s":60,"e":59.15},{"v":7,"s":60,"e":59.15},{"v":8,"s":60,"e":59.15},{"v":9,"s":60,"e":59.15}]},
"mark":{"type":"rule","stroke":"#222","strokeWidth":1},
"encoding":{"x":{"field":"v","type":"quantitative"},"y":{"field":"s","type":"quantitative"},"y2":{"field":"e"}}},
{"data":{"values":[{"v":20,"s":-1,"e":-0.65},{"v":40,"s":-1,"e":-0.65},{"v":5,"s":-1,"e":-0.82},{"v":10,"s":-1,"e":-0.82},{"v":15,"s":-1,"e":-0.82},{"v":25,"s":-1,"e":-0.82},{"v":30,"s":-1,"e":-0.82},{"v":35,"s":-1,"e":-0.82},{"v":45,"s":-1,"e":-0.82},{"v":50,"s":-1,"e":-0.82},{"v":55,"s":-1,"e":-0.82},{"v":20,"s":10,"e":9.65},{"v":40,"s":10,"e":9.65},{"v":5,"s":10,"e":9.82},{"v":10,"s":10,"e":9.82},{"v":15,"s":10,"e":9.82},{"v":25,"s":10,"e":9.82},{"v":30,"s":10,"e":9.82},{"v":35,"s":10,"e":9.82},{"v":45,"s":10,"e":9.82},{"v":50,"s":10,"e":9.82},{"v":55,"s":10,"e":9.82}]},
"mark":{"type":"rule","stroke":"#222","strokeWidth":1},
"encoding":{"y":{"field":"v","type":"quantitative"},"x":{"field":"s","type":"quantitative"},"x2":{"field":"e"}}},
{"data":{"values":[{"x":1,"z":50,"t":"TLF"},{"x":5.39,"z":50,"t":"Ni+"},{"x":6.64,"z":50,"t":"Sn 35 A.MeV"},{"x":6,"z":45.15,"t":"M≤7"},{"x":7.04,"z":29.9,"t":"PLF"},{"x":4,"z":-4.4,"t":"V"},{"x":5,"z":-4.4,"t":"(cm/ns)"}]},
"mark":{"type":"text","font":"Liberation Serif","fontSize":14,"align":"left","baseline":"alphabetic","color":"#000"},
"encoding":{"x":{"field":"x","type":"quantitative"},"y":{"field":"z","type":"quantitative"},"text":{"field":"t"}}},
{"data":{"values":[{"x":5,"z":51,"t":"64"},{"x":6.14,"z":51,"t":"124"},{"x":4.36,"z":-5,"t":"par"}]},
"mark":{"type":"text","font":"Liberation Serif","fontSize":10,"align":"left","baseline":"alphabetic","color":"#000"},
"encoding":{"x":{"field":"x","type":"quantitative"},"y":{"field":"z","type":"quantitative"},"text":{"field":"t"}}}
]}
